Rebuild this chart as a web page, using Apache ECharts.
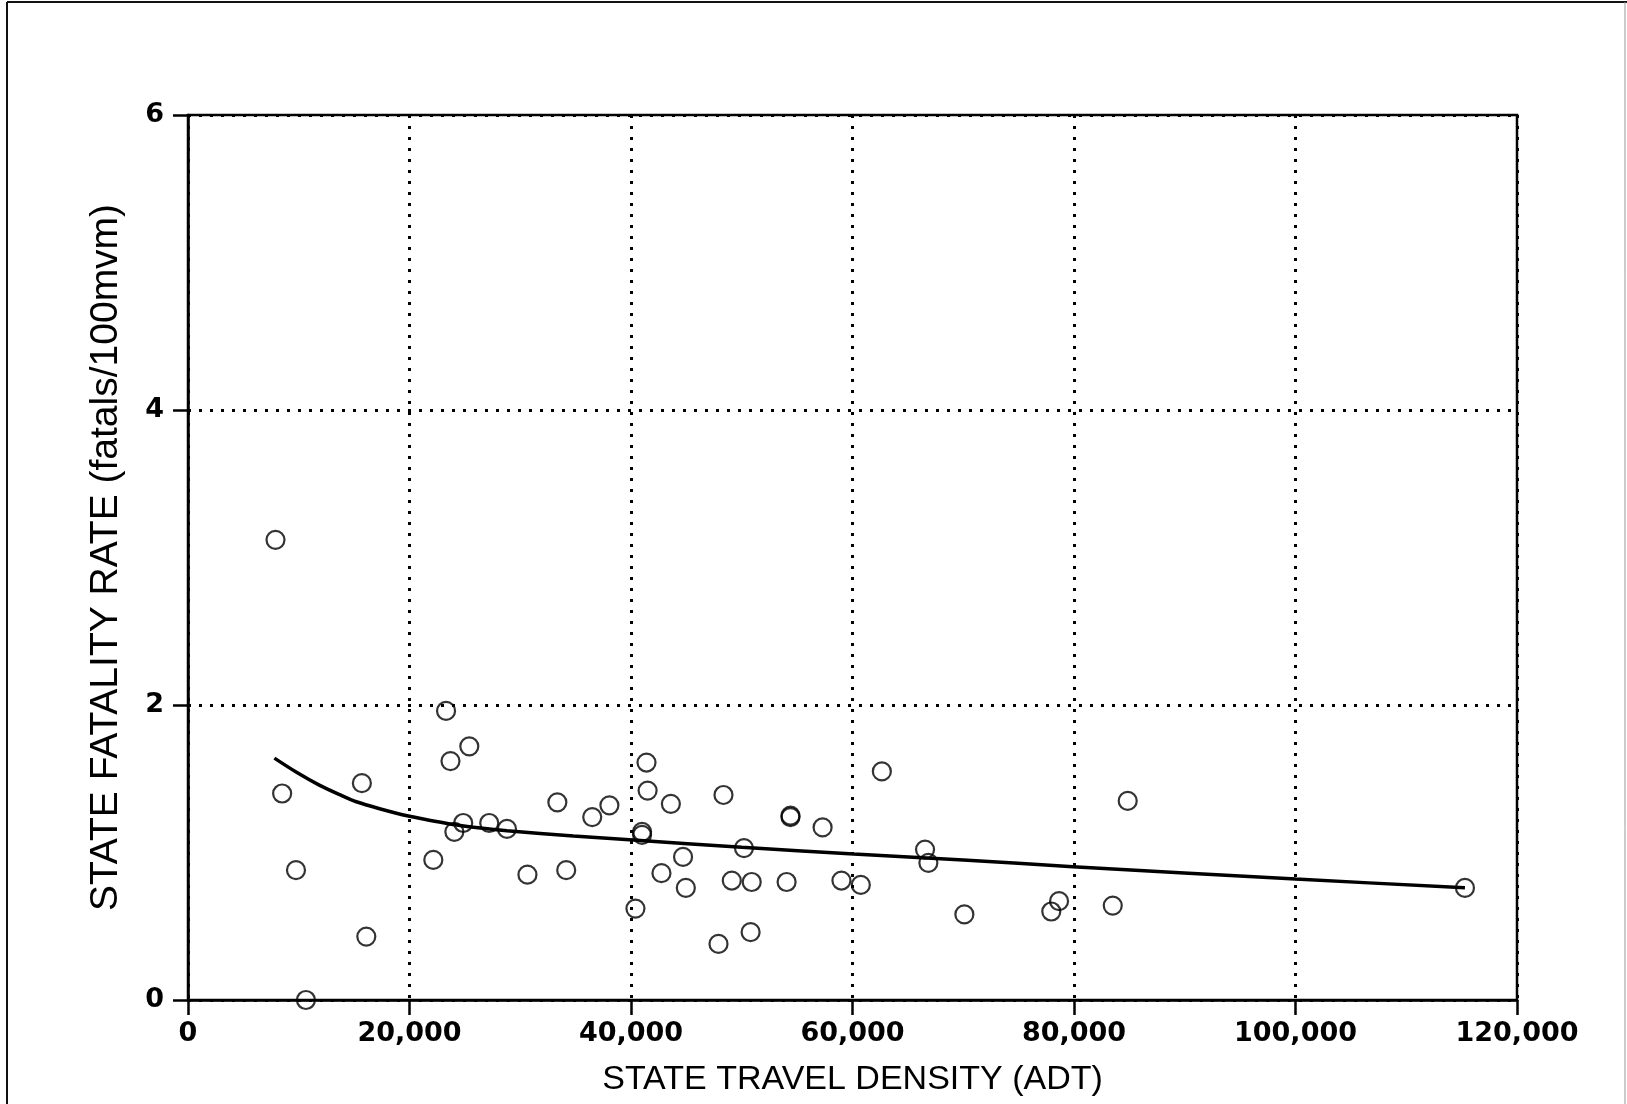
<!DOCTYPE html>
<html>
<head>
<meta charset="utf-8">
<script src="https://cdn.jsdelivr.net/npm/echarts@6/dist/echarts.min.js"></script>
<style>
html,body{margin:0;padding:0;background:#fff;}
#chart{width:1627px;height:1104px;}
</style>
</head>
<body>
<div id="chart"></div>
<script>
// State travel density (ADT) and state fatality rate (fatals/100mvm)
const stateDensity = [7900, 8500, 9750, 10650, 15700, 16100, 22150, 23300, 23700, 25400,
  24050, 24850, 27200, 28800, 30650, 33350, 34150, 36500, 38050, 40400,
  41000, 41000, 41400, 41500, 43600, 42750, 44700, 44950, 47900, 48350,
  49100, 50200, 50900, 50800, 54400, 54400, 54050, 57300, 59000, 60750,
  62650, 66550, 66850, 70100, 77950, 78650, 83500, 84850, 115300];
const stateRate = [3.12, 1.40, 0.88, 0.00, 1.47, 0.43, 0.95, 1.96, 1.62, 1.72,
  1.14, 1.20, 1.20, 1.16, 0.85, 1.34, 0.88, 1.24, 1.32, 0.62,
  1.14, 1.12, 1.61, 1.42, 1.33, 0.86, 0.97, 0.76, 0.38, 1.39,
  0.81, 1.03, 0.80, 0.46, 1.25, 1.24, 0.80, 1.17, 0.81, 0.78,
  1.55, 1.02, 0.93, 0.58, 0.60, 0.67, 0.64, 1.35, 0.76];
// fitted curve
const curveX = [7800, 9800, 11900, 13700, 15200, 17300, 19900, 22150, 24300, 26400, 28800,
  34800, 40200, 50000, 60100, 70000, 79900, 100000, 115300];
const curveY = [1.64, 1.544, 1.455, 1.392, 1.344, 1.297, 1.247, 1.214, 1.186, 1.166, 1.148,
  1.112, 1.085, 1.035, 0.99, 0.949, 0.904, 0.82, 0.761];
// ticks
const xTicks = [0, 20000, 40000, 60000, 80000, 100000, 120000];
const xTickLabels = ['0', '20,000', '40,000', '60,000', '80,000', '100,000', '120,000'];
const yTicks = [0, 2, 4, 6];
const yTickLabels = ['0', '2', '4', '6'];
const xTitle = 'STATE TRAVEL DENSITY (ADT)';
const yTitle = 'STATE FATALITY RATE (fatals/100mvm)';

const chart = echarts.init(document.getElementById('chart'), null, {renderer: 'canvas'});
const points = stateDensity.map((x, i) => [x, stateRate[i]]);
const curve = curveX.map((x, i) => [x, curveY[i]]);
const dotted = {color: '#000', width: 3, type: [3, 8]};

chart.setOption({
  animation: false,
  backgroundColor: '#fff',
  grid: {left: 188, right: 110, top: 115, bottom: 104, show: true, borderColor: '#000', borderWidth: 2.5, backgroundColor: 'transparent'},
  graphic: [
    {type: 'line', shape: {x1: 7, y1: 2, x2: 7, y2: 1104}, style: {stroke: '#111', lineWidth: 2}, silent: true},
    {type: 'line', shape: {x1: 7, y1: 2, x2: 1627, y2: 2}, style: {stroke: '#111', lineWidth: 2}, silent: true},
    {type: 'line', shape: {x1: 1625, y1: 2, x2: 1625, y2: 1104}, style: {stroke: '#999', lineWidth: 1}, silent: true}
  ],
  xAxis: {
    type: 'value', min: xTicks[0], max: xTicks[xTicks.length - 1], interval: xTicks[1] - xTicks[0],
    name: xTitle, nameLocation: 'middle', nameGap: 63,
    nameTextStyle: {fontFamily: 'Liberation Sans', fontSize: 34, color: '#000'},
    axisLine: {show: true, onZero: false, lineStyle: {color: '#000', width: 2.5}},
    axisTick: {show: true, inside: false, length: 15, lineStyle: {color: '#000', width: 2.5}},
    axisLabel: {margin: 20, fontFamily: 'DejaVu Sans', fontWeight: 'bold', fontSize: 27, color: '#000',
      formatter: v => { const i = xTicks.indexOf(v); return i >= 0 ? xTickLabels[i] : ''; }},
    splitLine: {show: true, lineStyle: dotted}
  },
  yAxis: {
    type: 'value', min: yTicks[0], max: yTicks[yTicks.length - 1], interval: yTicks[1] - yTicks[0],
    name: yTitle, nameLocation: 'middle', nameGap: 62, nameRotate: 90,
    nameTextStyle: {fontFamily: 'Liberation Sans', fontSize: 39, color: '#000'},
    axisLine: {show: true, onZero: false, lineStyle: {color: '#000', width: 2.5}},
    axisTick: {show: true, inside: false, length: 15, lineStyle: {color: '#000', width: 2.5}},
    axisLabel: {margin: 24, fontFamily: 'DejaVu Sans', fontWeight: 'bold', fontSize: 27, color: '#000',
      formatter: v => { const i = yTicks.indexOf(v); return i >= 0 ? yTickLabels[i] : ''; }},
    splitLine: {show: true, lineStyle: dotted}
  },
  series: [
    {type: 'line', data: curve, smooth: 0.3, showSymbol: false, symbol: 'none',
      lineStyle: {color: '#000', width: 3.5}, z: 2, silent: true},
    {type: 'scatter', data: points, symbol: 'circle', symbolSize: 18,
      itemStyle: {color: 'rgba(0,0,0,0)', borderColor: '#000', borderWidth: 2.2}, z: 3, silent: true}
  ]
});
</script>
</body>
</html>
